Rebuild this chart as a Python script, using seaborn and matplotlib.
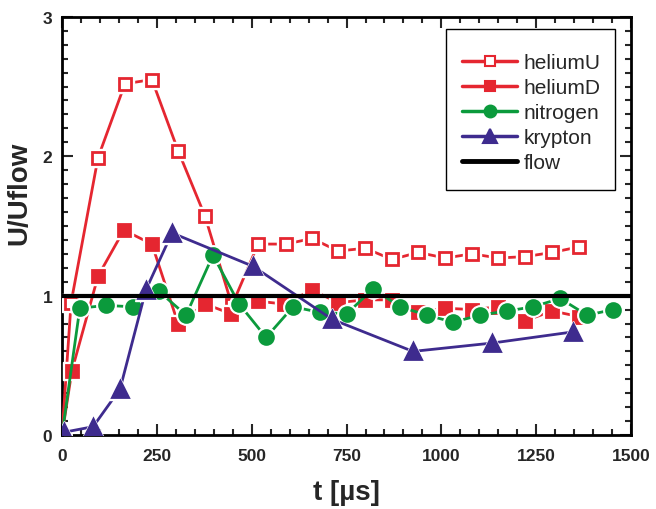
import pandas as pd
import numpy as np
import matplotlib
matplotlib.use("Agg")
import matplotlib.pyplot as plt
from matplotlib.lines import Line2D
from matplotlib.patches import Rectangle
from matplotlib.ticker import MultipleLocator
import seaborn as sns

# data
t_heliumU = [0, 24, 95, 166, 237, 306, 377, 448, 517, 590, 659, 728, 799, 870, 939, 1010, 1081, 1150, 1221, 1292, 1363]
v_heliumU = [0.0, 0.95, 1.99, 2.52, 2.55, 2.04, 1.57, 0.93, 1.37, 1.37, 1.41, 1.32, 1.34, 1.26, 1.31, 1.27, 1.30, 1.27, 1.28, 1.31, 1.35]

t_heliumD = [0, 26, 95, 163, 237, 306, 377, 446, 517, 585, 659, 728, 799, 870, 939, 1010, 1081, 1150, 1221, 1292, 1363]
v_heliumD = [0.0, 0.46, 1.14, 1.47, 1.37, 0.80, 0.94, 0.87, 0.96, 0.94, 1.04, 0.95, 0.97, 0.97, 0.88, 0.91, 0.90, 0.92, 0.82, 0.89, 0.85]

t_nitrogen = [0, 47, 116, 187, 256, 327, 398, 467, 538, 609, 680, 751, 820, 891, 962, 1031, 1102, 1173, 1242, 1313, 1384, 1453]
v_nitrogen = [0.0, 0.91, 0.93, 0.92, 1.03, 0.86, 1.29, 0.94, 0.70, 0.92, 0.88, 0.87, 1.05, 0.92, 0.86, 0.81, 0.86, 0.89, 0.92, 0.98, 0.86, 0.90]

t_krypton = [5, 82, 153, 221, 290, 504, 712, 925, 1134, 1347]
v_krypton = [0.02, 0.06, 0.33, 1.04, 1.45, 1.21, 0.83, 0.60, 0.66, 0.74]

t_flow = [0, 1500]
v_flow = [1.0, 1.0]

red = "#e52630"
green = "#0b9a3c"
purple = "#3e2b8e"

sns.set_style("ticks")
plt.rcParams["font.family"] = ["Liberation Sans", "DejaVu Sans"]

fig = plt.figure(figsize=(6.56, 5.10), dpi=100)
ax = fig.add_axes([0.0945, 0.145, 0.8675, 0.82])

series = [
    ("heliumU", t_heliumU, v_heliumU, red, "s", "white", 8.5),
    ("heliumD", t_heliumD, v_heliumD, red, "s", red, 9),
    ("nitrogen", t_nitrogen, v_nitrogen, green, "o", green, 10),
    ("krypton", t_krypton, v_krypton, purple, "^", purple, 11.5),
]

z = 3
handles = []
for name, t, v, col, mk, fill, ms in series:
    df = pd.DataFrame({"t": t, "v": v})
    sns.lineplot(data=df, x="t", y="v", color=col, lw=2, ax=ax, zorder=z, sort=False)
    # white halo so the line stops short of each marker
    ax.plot(t, v, ls="none", marker=mk, ms=ms + 4, mfc="white", mec="white", zorder=z + 0.1)
    ax.plot(t, v, ls="none", marker=mk, ms=ms, mfc=fill, mec=col, mew=2, zorder=z + 0.2)
    handles.append(Line2D([], [], color=col, lw=2.5, marker=mk, ms=ms - 1.5, mfc=fill, mec=col, mew=1.5, label=name))
    z += 1

sns.lineplot(x=t_flow, y=v_flow, color="black", lw=3, ax=ax, zorder=10)
handles.append(Line2D([], [], color="black", lw=3.5, label="flow"))

ax.set_xlim(0, 1500)
ax.set_ylim(0, 3)
ax.xaxis.set_major_locator(MultipleLocator(250))
ax.xaxis.set_minor_locator(MultipleLocator(50))
ax.yaxis.set_major_locator(MultipleLocator(1))
ax.yaxis.set_minor_locator(MultipleLocator(0.1))
ax.tick_params(which="both", direction="in", top=True, right=True, width=1.5, labelsize=12.5)
ax.tick_params(which="major", length=8)
ax.tick_params(which="minor", length=4)
ax.tick_params(axis="x", pad=9)
ax.tick_params(axis="y", pad=7)
for lab in ax.get_xticklabels() + ax.get_yticklabels():
    lab.set_fontweight("bold")
for sp in ax.spines.values():
    sp.set_linewidth(2)
    sp.set_color("black")

ax.set_xlabel("t [µs]", fontsize=20, fontweight="bold", labelpad=12)
ax.set_ylabel("U/Uflow", fontsize=20, fontweight="bold")
ax.yaxis.set_label_coords(-0.052, 0.58)

# legend box drawn separately so its padding can match the original
ax.add_patch(Rectangle((0.675, 0.585), 0.297, 0.386, transform=ax.transAxes,
                       facecolor="white", edgecolor="black", lw=1, zorder=20))
leg = ax.legend(handles=handles, loc="upper left", bbox_to_anchor=(0.703, 0.913), fontsize=15,
                frameon=False, handlelength=2.65, borderpad=0, labelspacing=0.29,
                handletextpad=0.3, borderaxespad=0)
leg.set_zorder(21)

fig.savefig("out.png", dpi=100)
